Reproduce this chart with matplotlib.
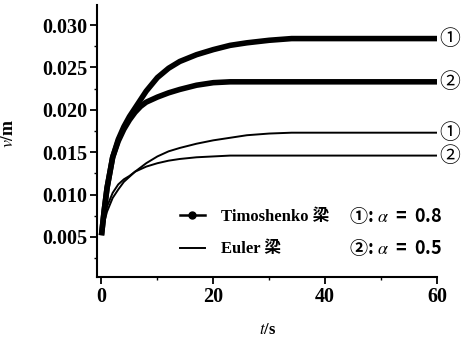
import matplotlib
matplotlib.use("Agg")
import matplotlib.pyplot as plt
from matplotlib.lines import Line2D
from matplotlib.ticker import MultipleLocator

plt.rcParams['mathtext.fontset'] = 'stix'

# ---- data ----
t = [0, 0.5, 1, 2, 3, 4, 5, 6, 7, 8, 10, 12, 14, 17, 20, 23, 26, 30, 34, 40, 50, 60]
timo_08 = [0.0052, 0.0082, 0.0108, 0.0144, 0.0165, 0.0180, 0.0192, 0.0202, 0.0212, 0.0222,
           0.0238, 0.0249, 0.0257, 0.0265, 0.0271, 0.0276, 0.0279, 0.0282, 0.0284, 0.0284,
           0.0284, 0.0284]
timo_05 = [0.0052, 0.0082, 0.0108, 0.0144, 0.0163, 0.0177, 0.0188, 0.0197, 0.0204, 0.0209,
           0.0215, 0.0220, 0.0224, 0.0229, 0.0232, 0.0233, 0.0233, 0.0233, 0.0233, 0.0233,
           0.0233, 0.0233]
euler_08 = [0.0055, 0.0068, 0.0080, 0.0096, 0.0106, 0.0115, 0.0121, 0.0127, 0.0132, 0.0137,
            0.0145, 0.0151, 0.0155, 0.0160, 0.0164, 0.0167, 0.0170, 0.0172, 0.0173, 0.0173,
            0.0173, 0.0173]
euler_05 = [0.0055, 0.0072, 0.0086, 0.0102, 0.0112, 0.0118, 0.0122, 0.0127, 0.0130, 0.0133,
            0.0137, 0.0140, 0.0142, 0.0144, 0.0145, 0.0146, 0.0146, 0.0146, 0.0146, 0.0146,
            0.0146, 0.0146]
curve_tags = ['①', '②', '①', '②']
legend_labels = ['Timoshenko 梁', 'Euler 梁']
alpha_notes = ['①: $\\mathit{\\alpha}$  =  0.8', '②: $\\mathit{\\alpha}$  =  0.5']
x_ticks = [0, 20, 40, 60]
y_ticks = [0.005, 0.010, 0.015, 0.020, 0.025, 0.030]

serif_cjk = ['Liberation Serif', 'Noto Sans CJK SC', 'DejaVu Sans']

fig = plt.figure(figsize=(4.67, 3.38), dpi=100)
ax = fig.add_axes([97 / 467, 61 / 338, 340 / 467, 272 / 338])

thick = 4.0
thin = 1.4
ax.plot(t, timo_08, color='black', lw=thick, solid_capstyle='butt')
ax.plot(t, timo_05, color='black', lw=thick, solid_capstyle='butt')
ax.plot(t, euler_08, color='black', lw=thin)
ax.plot(t, euler_05, color='black', lw=thin)

ax.set_xlim(-0.8, 60)
ax.set_ylim(0.00028, 0.03236)

ax.spines['top'].set_visible(False)
ax.spines['right'].set_visible(False)
ax.spines['left'].set_linewidth(1.5)
ax.spines['bottom'].set_linewidth(1.5)

ax.set_xticks(x_ticks)
ax.set_xticklabels([str(v) for v in x_ticks])
ax.set_yticks(y_ticks)
ax.set_yticklabels([f'{v:.3f}' for v in y_ticks])
ax.xaxis.set_minor_locator(MultipleLocator(10))
ax.yaxis.set_minor_locator(MultipleLocator(0.0025))
ax.tick_params(which='major', direction='out', length=5, width=1.3, pad=2)
ax.tick_params(which='minor', direction='out', length=2.5, width=1.0)
for lab in ax.get_xticklabels() + ax.get_yticklabels():
    lab.set_fontfamily('Liberation Serif')
    lab.set_fontweight('bold')
    lab.set_fontsize(14.5)

ax.set_ylabel('$v$/m', fontsize=13, fontweight='bold', family='Liberation Serif')
ax.yaxis.set_label_coords(-0.235, 0.53)
ax.set_xlabel('$t$/s', fontsize=12, fontweight='bold', family='Liberation Serif')
ax.xaxis.set_label_coords(0.503, -0.165)

# circled curve tags at right end
for series, tag in zip([timo_08, timo_05, euler_08, euler_05], curve_tags):
    ax.text(60.4, series[-1], tag, fontsize=15, va='center', ha='left',
            family=['Noto Sans CJK SC', 'DejaVu Sans'], clip_on=False)

handles = [Line2D([], [], color='black', lw=1.8, marker='o', markersize=5),
           Line2D([], [], color='black', lw=1.4)]
leg = ax.legend(handles, legend_labels, loc='upper left',
                bbox_to_anchor=((168 - 97) / 340, (277 - 197) / 272),
                frameon=False, handlelength=1.5, handletextpad=1.0,
                labelspacing=1.0, borderpad=0.2,
                prop={'family': serif_cjk, 'size': 12, 'weight': 'bold'})

for i, note in enumerate(alpha_notes):
    fig.text(349 / 467, 1 - (215 + 32 * i) / 338, note, fontsize=13, fontweight='bold',
             va='center', ha='left', family=['Noto Sans CJK SC', 'DejaVu Sans'])

fig.savefig('out.png', dpi=100)
